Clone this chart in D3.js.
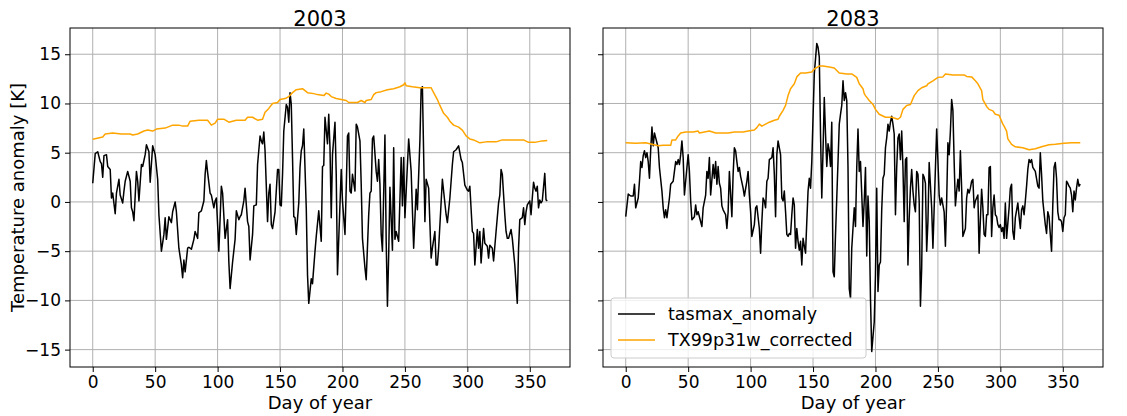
<!DOCTYPE html>
<html>
<head>
<meta charset="utf-8">
<script src="https://cdn.jsdelivr.net/npm/d3@7"></script>
<style>
  body { margin: 0; background: #fff; }
  svg { font-family: "DejaVu Sans", sans-serif; }
</style>
</head>
<body>
<svg id="chart" width="1127" height="416"></svg>
<script>
// [day of year, value in K]
const tasmax2003 = [[0,1.9],[2,4.9],[4,5.1],[6,4.1],[7,3.9],[8,2.5],[9,4.7],[11,4.8],[12,3.6],[14,3.3],[15,0.4],[16,0.9],[18,-1.2],[19,0.9],[21,2.3],[22,0.7],[24,-0.1],[25,1.1],[26,2.1],[28,3.1],[30,2.1],[31,-0.6],[32,-1],[33,-1.9],[35,3.1],[36,2.1],[37,0.1],[39,3.8],[40,3.6],[42,4.8],[43,5.8],[45,5.1],[46,2],[48,5.7],
  [50,4.8],[52,2.3],[53,-1.3],[55,-5.0],[57,-3.3],[58,-1.6],[59,-3.8],[61,-1.5],[63,-2.1],[64,-1],[66,0],[67,-1],[69,-4.7],[71,-6.4],[72,-7.7],[73,-5.9],[74,-7.1],[76,-4.7],[77,-4.6],[79,-4.8],[81,-3.8],[82,-3],[84,-3.7],[85,-1.1],[87,-0.9],[89,0.1],[90,2.8],[91,4.2],[92,3],[94,0.9],[95,0.7],[97,-0.6],[98,0.1],[99,0.4],[101,-5],[103,1.6],[104,0.9],[106,-3.7],[108,-1.8],[109,-6.1],[110,-8.8],
  [112,-6.1],[114,-3.8],[115,-0.9],[117,-1.8],[118,-1.5],[119,-1.3],[121,0.1],[122,1.4],[124,-2],[125,-2.5],[126,-5.9],[128,-3.3],[129,-0.4],[131,-0.3],[132,3.8],[134,6.7],[135,6.2],[136,5.9],[137,7.1],[138,5.2],[140,-2],[141,0.9],[142,1.8],[143,-2.3],[144,-2.7],[146,-1],[148,3.3],[149,3.3],[150,-0.3],[151,-0.4],[152,2.8],[153,7.2],[155,9.9],[156,9.6],[157,8.1],[158,11.1],[159,9.9],[160,4.5],[161,-1.5],[162,-1.6],[163,-3.3],[165,-0.1],[166,3.5],[167,5.2],[168,5.7],[169,7.4],[171,-0.6],[172,-7.4],[173,-10.3],[175,-7.8],
  [176,-8.3],[178,-5],[179,-3.5],[181,-0.9],[183,-4],[184,3.6],[185,3.7],[186,8.6],[188,5.9],[189,8.9],[190,5.5],[191,-1.6],[192,4.8],[194,8.1],[195,2.8],[196,-7.4],[197,-3.8],[199,3.3],[200,0.1],[202,-3.3],[203,1.4],[204,6.7],[205,7.0],[206,1.1],[207,0.9],[208,2.8],[210,1.1],[211,7.9],[212,7.6],[214,6.2],[215,1.8],[216,-3.7],[218,-6.7],[219,-7.9],[221,-1.3],[222,0.9],[223,1.1],[224,6.4],[225,6.7],[227,3.1],[228,2.1],[229,4.3],[230,1.8],[231,-3.3],[232,-5],[234,6.8],[235,-4],[236,-10.6],[237,-5.4],[238,1.5],[240,-4.9],
  [241,5.5],[242,-3.8],[243,-3.0],[245,-4.0],[247,4.5],[248,-0.4],[249,4.5],[250,-1.6],[253,6.4],[255,3.1],[257,-4.7],[259,1.3],[260,-0.8],[262,6.2],[263,11.5],[264,11.7],[266,-2],[267,2.3],[269,1.4],[271,-5.7],[272,-4.7],[274,-3],[275,-6.4],[276,-6.4],[277,-4.7],[280,2.3],[283,-1.3],[284,-2.1],[286,0.4],[288,3.8],[289,5.1],[291,5.3],[293,5.7],[295,4.3],[296,4.0],[298,1.7],[300,1.2],[301,1.1],[302,1.6],
  [304,-3],[305,-3.2],[306,-6.4],[308,-2.8],[309,-4.7],[310,-3],[311,-6.2],[313,-2.7],[314,-4.2],[316,-4.5],[317,-5.7],[318,-4.4],[320,-4.7],[321,-6],[323,-3],[325,-0.1],[326,0.7],[327,3.3],[328,2.8],[330,-1.3],[331,-3],[332,-3.7],[333,-3.7],[335,-2.8],[336,-3.7],[338,-6.4],[340,-10.3],[341,-4.7],[342,-1.8],[344,-1.6],[345,-0.6],[346,-2.3],[347,-1.0],[348,-0.3],[350,0.1],[351,-1.3],[352,0.4],[353,2],[354,1.4],[355,1.1],[356,1.6],[357,-0.6],[358,0.2],[359,-0.1],[360,0.1],[362,2.9],[363,0.2],[364,0.1]];

const tx99_2003 = [[0,6.36],[8,6.6],[10,6.9],[16,7.0],[23,6.9],[30,6.9],[32,6.8],[36,6.9],[41,7.2],[44,7.3],[48,7.2],[51,7.4],[58,7.5],[60,7.6],[64,7.8],[69,7.8],[72,7.7],[76,7.7],[78,8.2],[85,8.3],[92,8.3],[95,7.8],[98,8.0],[100,8.4],[105,8.4],[109,8.1],[112,8.2],[115,8.3],[122,8.3],[124,8.6],[128,8.6],[132,8.3],[136,8.4],[138,9.1],[141,9.5],[144,10],[148,10.1],[150,10.4],[154,10.5],[157,10.7],[160,11.1],[163,11.4],[168,11.5],[172,11.1],[177,11.0],[180,10.9],[185,10.8],[187,11.05],[189,10.95],[191,10.7],[195,10.5],[199,10.4],[203,10.3],[205,10.1],[212,10.1],[215,10.3],[218,10.1],[219,10.3],[223,10.4],[225,10.9],[227,11.1],[231,11.2],[236,11.4],[241,11.5],[246,11.7],[249,11.9],[250,12.1],[251,11.8],[256,11.7],[262,11.6],[271,11.6],[273,11.1],[276,10.4],[278,9.8],[281,9.0],[284,8.6],[286,8.2],[289,7.8],[293,7.6],[296,7.3],[299,6.7],[302,6.4],[305,6.3],[310,6.0],[315,6.1],[323,6.1],[328,6.3],[336,6.3],[345,6.3],[349,6.05],[354,6.05],[360,6.2],[364,6.25]];

const tasmax2083 = [[0,-1.5],[2,0.8],[4,0.6],[6,0.6],[7,1.8],[8,-0.6],[10,0.4],[11,2.1],[12,4.1],[13,3.5],[14,4.7],[15,5.2],[16,4.5],[17,5],[18,4.1],[19,2.4],[20,5.3],[21,7.6],[22,5.7],[23,7],[24,6.5],[26,5.5],[27,3.5],[29,1.1],[30,-0.6],[31,-1.6],[32,-0.8],[33,-1.6],[35,0.4],[36,1.8],[38,2.1],[39,3.1],[40,4.1],[41,3.8],[42,4.3],[43,3.8],[44,4.8],[45,6.2],[46,4.5],[47,0.7],
  [49,3.5],[50,4.8],[51,3.1],[52,0.1],[53,-1.8],[55,-1.5],[56,-0.3],[57,-1.3],[58,-1],[59,-1.5],[61,-2.5],[62,-0.6],[64,0.7],[65,3.1],[66,2.4],[67,4.5],[68,0.7],[70,3.8],[71,2.4],[72,4.1],[73,1.8],[74,3.6],[75,1.9],[76,1.4],[77,-0.4],[78,-0.8],[80,-1.3],[81,-2.7],[82,-1],[83,3.1],[85,-1.5],[86,2.8],[87,5.5],[88,5.2],[89,4.1],[90,3.1],[91,3.5],[92,2.6],[94,1.4],[95,0.6],[97,2.1],[98,3.1],[99,0.7],[100,-1],[101,-3.5],[103,-2.3],[104,-0.6],[105,-0.4],[107,-2.7],[108,-5.2],[109,-2],[110,0.4],
  [111,0.1],[112,-0.6],[113,2.1],[114,2.4],[115,4.3],[117,4.5],[118,5.5],[119,2.8],[120,-1.5],[121,4.8],[122,6.2],[124,4.8],[125,0.4],[126,0.1],[127,1.1],[128,-1],[129,-3.3],[130,-3.5],[131,-3.2],[132,-3.3],[133,-1.3],[134,0.4],[135,-0.3],[136,-4.7],[137,-2.7],[138,-4],[139,-4.9],[140,-4],[141,-6.4],[142,-3.7],[143,-4.5],[144,-5.2],[145,-2],[146,1.1],[147,2.4],[148,1.4],[149,4.1],[150,8.6],[151,13],[153,16.1],[154,15.7],[155,14.7],[156,6.9],[157,0.4],[158,5.2],[159,10.6],[160,6.9],[161,3.6],[162,5.9],[163,5.2],[164,3.6],[165,8.1],[166,-7.1],[167,-7.6],[168,-3.3],[169,0.4],[170,4.1],[171,7.9],[172,8.9],[173,9.8],[174,12.3],
  [175,10.3],[176,11.1],[177,10.3],[178,3.5],[179,-8.8],[180,-9.8],[181,-4.7],[183,-0.6],[184,-2.5],[185,3.5],[186,7.4],[187,3.1],[188,4.1],[190,-2.5],[191,0.1],[192,3.5],[193,-5.5],[194,0.6],[195,-2],[196,-9.8],[197,-15.2],[199,-12.2],[200,-7.4],[201,1.4],[202,-9.1],[203,-6.4],[204,-6.1],[205,-0.8],[206,2.4],[207,2.8],[208,5.5],[209,6.5],[210,7.9],[211,7.2],[212,8.1],[213,8.7],[214,7.9],[215,6.9],[216,-1.3],[217,3.5],[218,6.5],[219,6.9],[220,4.3],[221,7.2],[222,3.5],[223,-2],[224,4.3],[225,4.5],[226,-6.4],[227,-1.6],[228,1.4],[229,3.3],[230,1.1],[231,-0.3],[232,-1],[233,3.1],[234,2.8],[235,0.1],[236,-10.6],[237,-6.7],[238,2.8],[239,2.5],[240,1.9],
  [241,-5],[242,-2],[243,4],[245,-0.6],[246,-4.7],[247,-0.6],[249,7.4],[250,4.2],[251,0.7],[252,-0.3],[253,0.4],[255,-1],[256,-4.5],[257,0.1],[258,6],[259,4.8],[260,7.2],[261,10.4],[262,9.3],[263,4.1],[264,-0.4],[265,1.1],[266,2.3],[267,1.1],[268,5.2],[269,1.4],[270,-3.5],[272,-2.7],[273,0.4],[274,1.3],[275,0.9],[276,1.4],[277,2.1],[278,2.3],[279,-0.6],[280,0.1],[282,0.7],[283,-5.2],[284,-1.8],[285,1.3],[286,-0.6],[287,-3.3],[288,-3.5],[289,-1.3],[290,-1.3],[291,3.5],[292,3.6],[293,-3.5],[294,-0.6],[295,0.7],[296,-1.3],[297,-1.5],[298,-2.3],[299,-2.6],[300,-2.3],[301,-3],[302,-2.6],[303,-3.7],[304,-0.1],
  [305,-3.7],[307,-0.6],[308,1.4],[309,1.8],[310,-3],[311,-3.8],[312,-1.6],[314,-0.1],[315,-1.5],[316,-2.7],[317,-0.8],[318,-0.4],[319,-1.3],[320,0.1],[321,1.6],[322,3.3],[323,4.3],[324,4.0],[325,4.3],[326,3.5],[327,3.3],[328,3.1],[330,1.6],[331,1.4],[332,5],[333,2.8],[334,0.1],[336,-2.3],[337,-3.2],[338,-1],[339,-1.5],[340,-3.3],[341,-5],[342,-0.3],[343,3.5],[344,4],[345,2.4],[346,-1],[347,-1.8],[348,-1.8],[349,-2],[350,-3],[351,-1.6],[352,-1.3],[353,2.1],[354,1.9],[355,1.6],[356,1.4],[357,0.7],[358,-1],[359,1.1],[360,0.2],[361,1.4],[362,2.3],[363,1.6],[364,1.8]];

const tx99_2083 = [[0,6.0],[8,5.95],[16,6.0],[21,5.85],[26,5.7],[30,5.75],[36,5.75],[37,6.3],[40,6.3],[42,6.7],[44,7.0],[48,7.1],[54,7.1],[58,7.2],[59,7.0],[63,7.1],[67,7.2],[72,7.0],[77,7.0],[82,7.0],[87,7.1],[94,7.1],[98,7.2],[103,7.3],[105,7.55],[107,7.9],[109,7.7],[112,7.9],[115,8.1],[119,8.3],[122,8.4],[123,8.7],[126,9.3],[128,9.8],[130,10.8],[132,11.5],[135,12],[137,12.7],[140,13.1],[144,13.1],[149,13.2],[151,13.5],[155,13.8],[158,13.8],[163,13.7],[167,13.6],[171,13.1],[177,13.0],[181,13.0],[185,12.65],[187,12],[190,11.5],[191,11],[192,10.8],[195,10.3],[198,9.9],[200,9.4],[203,8.9],[208,8.6],[213,8.6],[218,8.4],[220,8.6],[222,9.4],[225,9.8],[228,9.9],[231,10.8],[234,11.3],[237,11.6],[241,11.8],[242,12],[246,12.3],[250,12.65],[254,12.7],[256,13],[262,12.9],[271,12.9],[273,12.75],[277,12.7],[280,12.3],[282,12],[285,11.3],[286,10.4],[289,9.7],[291,9.4],[294,9.25],[296,8.9],[299,8.8],[302,7.9],[303,7.7],[305,7.2],[306,6.4],[309,5.85],[312,5.6],[318,5.5],[323,5.3],[328,5.4],[333,5.6],[339,5.8],[344,5.85],[351,5.95],[357,6.0],[364,6.0]];

const years = ["2003", "2083"];
const seriesNames = ["tasmax_anomaly", "TX99p31w_corrected"];
const seriesColors = ["#000000", "#ffa500"];
const xTicks = [0, 50, 100, 150, 200, 250, 300, 350];
const yTicks = [-15, -10, -5, 0, 5, 10, 15];

const panels = [
  { year: years[0], anomaly: tasmax2003, threshold: tx99_2003, left: 70 },
  { year: years[1], anomaly: tasmax2083, threshold: tx99_2083, left: 603 }
];

const plotW = 500;
const plotTop = 28;
const plotH = 339;
const tickFont = 17;

const svg = d3.select('#chart');

// shared y range (matplotlib adds 5% margins)
const allValues = [...tasmax2003, ...tasmax2083, ...tx99_2003, ...tx99_2083].map(d => d[1]);
const yMin = d3.min(allValues), yMax = d3.max(allValues);
const yPad = (yMax - yMin) * 0.05;
const y = d3.scaleLinear().domain([yMin - yPad, yMax + yPad]).range([plotTop + plotH, plotTop]);

panels.forEach((p, i) => {
  const x = d3.scaleLinear().domain([-18.2, 382.2]).range([p.left, p.left + plotW]);
  const g = svg.append('g');

  // grid
  g.append('g').selectAll('line').data(xTicks).enter().append('line')
    .attr('x1', d => x(d)).attr('x2', d => x(d))
    .attr('y1', plotTop).attr('y2', plotTop + plotH)
    .attr('stroke', '#b0b0b0').attr('stroke-width', 1);
  g.append('g').selectAll('line').data(yTicks).enter().append('line')
    .attr('x1', p.left).attr('x2', p.left + plotW)
    .attr('y1', d => y(d)).attr('y2', d => y(d))
    .attr('stroke', '#b0b0b0').attr('stroke-width', 1);

  const line = d3.line().x(d => x(d[0])).y(d => y(d[1]));

  g.append('path').datum(p.anomaly)
    .attr('d', line).attr('fill', 'none')
    .attr('stroke', seriesColors[0]).attr('stroke-width', 1.5)
    .attr('stroke-linejoin', 'round');
  g.append('path').datum(p.threshold)
    .attr('d', line).attr('fill', 'none')
    .attr('stroke', seriesColors[1]).attr('stroke-width', 1.5)
    .attr('stroke-linejoin', 'round');

  // axes
  const xAxis = g.append('g')
    .attr('transform', `translate(0,${plotTop + plotH})`)
    .call(d3.axisBottom(x).tickValues(xTicks).tickSize(5).tickPadding(4));
  const yAxis = g.append('g')
    .attr('transform', `translate(${p.left},0)`)
    .call(d3.axisLeft(y).tickValues(yTicks).tickSize(5).tickPadding(4)
      .tickFormat(d => i === 0 ? (d < 0 ? '\u2212' + Math.abs(d) : d) : ''));
  [xAxis, yAxis].forEach(a => {
    a.select('.domain').remove();
    a.selectAll('text').attr('font-size', tickFont).attr('fill', '#000')
      .attr('font-family', '"DejaVu Sans", sans-serif');
    a.selectAll('line').attr('stroke', '#000');
  });

  g.append('rect')
    .attr('x', p.left).attr('y', plotTop)
    .attr('width', plotW).attr('height', plotH)
    .attr('fill', 'none').attr('stroke', '#000').attr('stroke-width', 1);

  g.append('text')
    .attr('x', p.left + plotW / 2).attr('y', 26)
    .attr('text-anchor', 'middle').attr('font-size', 21).attr('fill', '#000')
    .text(p.year);

  g.append('text')
    .attr('x', p.left + plotW / 2).attr('y', 409)
    .attr('text-anchor', 'middle').attr('font-size', 18).attr('fill', '#000')
    .text('Day of year');
});

svg.append('text')
  .attr('transform', `translate(24,${plotTop + plotH / 2}) rotate(-90)`)
  .attr('text-anchor', 'middle').attr('font-size', 18).attr('fill', '#000')
  .text('Temperature anomaly [K]');

// legend, lower left of the second panel
const lg = svg.append('g').attr('transform', 'translate(611,298)');
lg.append('rect')
  .attr('width', 255).attr('height', 60).attr('rx', 3)
  .attr('fill', 'rgba(255,255,255,0.8)').attr('stroke', '#cccccc');
seriesNames.forEach((name, i) => {
  const ly = 16 + i * 26;
  lg.append('line')
    .attr('x1', 7).attr('x2', 44).attr('y1', ly).attr('y2', ly)
    .attr('stroke', seriesColors[i]).attr('stroke-width', 1.5);
  lg.append('text')
    .attr('x', 57).attr('y', ly + 6)
    .attr('font-size', 17.5).attr('fill', '#000')
    .text(name);
});
</script>
</body>
</html>
